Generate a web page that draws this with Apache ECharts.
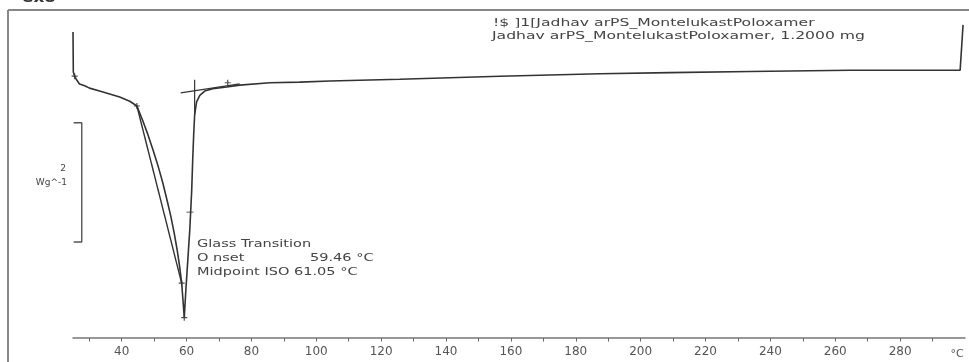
<!DOCTYPE html>
<html><head><meta charset="utf-8">
<script src="https://cdn.jsdelivr.net/npm/echarts@6/dist/echarts.min.js"></script>
<style>html,body{margin:0;padding:0;background:#fff}#c{width:969px;height:362px}</style>
</head><body><div id="c"></div>
<script>
// DSC curve: temperature (°C) vs heat flow (W/g, exo up)
const curve = [
 [25.0,0.13],[25.1,-0.54],[25.5,-0.61],[26.1,-0.67],[27.0,-0.74],[28.6,-0.77],[30.1,-0.81],
 [33.2,-0.86],[36.3,-0.91],[39.4,-0.96],[42.5,-1.03],[44.7,-1.11],[46.4,-1.34],[47.9,-1.56],
 [49.7,-1.85],[51.3,-2.13],[52.7,-2.40],[54.0,-2.69],[55.2,-2.97],[56.2,-3.24],[57.1,-3.52],
 [57.9,-3.81],[58.5,-4.08],[58.9,-4.36],[59.3,-4.66],
 [59.8,-4.19],[60.4,-3.69],[61.0,-3.19],[61.6,-2.52],[61.9,-2.02],[62.2,-1.60],[62.5,-1.26],
 [63.1,-1.04],[64.1,-0.93],[65.6,-0.86],[68.1,-0.82],[72.4,-0.79],[76.4,-0.76],[85.7,-0.72],
 [94.9,-0.71],[104.2,-0.69],[125.7,-0.66],[156.6,-0.61],[187.4,-0.57],[209.0,-0.55],
 [233.7,-0.53],[264.6,-0.51],[298.5,-0.51],[299.1,-0.49],[299.4,0.25]
];
const tangentLow = [[44.7,-1.11],[58.5,-4.08]];
const tangentHigh = [[58.2,-0.89],[76.4,-0.74]];
const onsetLine = [[62.5,-0.67],[62.5,-1.26]];
const markers = [[25.5,-0.61],[44.7,-1.11],[58.5,-4.08],[59.3,-4.66],[72.7,-0.72]];
const midMarker = [[61.05,-2.89]];
const scaleBar = [[25.2,-1.39],[27.7,-1.39],[27.7,-3.39],[25.2,-3.39]];
const tickValues = [30,40,50,60,70,80,90,100,110,120,130,140,150,160,170,180,190,200,210,220,230,240,250,260,270,280,290];
const labelValues = [40,60,80,100,120,140,160,180,200,220,240,260,280];
const infoLines = ['!$ ]1[Jadhav arPS_MontelukastPoloxamer','Jadhav arPS_MontelukastPoloxamer, 1.2000 mg'];
const gtLines = ['Glass Transition','O nset','Midpoint ISO 61.05 \u00b0C'];
const onsetValue = '59.46 \u00b0C';

const chart = echarts.init(document.getElementById('c'));
const lc = '#333';
const txt = (x,y,t,o,sx) => ({type:'text',x:x,y:y,scaleX:sx||1,style:Object.assign({text:t,fill:'#444',font:'10px "DejaVu Sans"',textVerticalAlign:'middle'},o||{})});
chart.setOption({
  animation:false,
  grid:{left:73,right:4,top:10,bottom:24},
  xAxis:{
    type:'value',min:25,max:300,
    axisLine:{onZero:false,lineStyle:{color:'#777',width:1.5}},
    axisTick:{customValues:tickValues,length:3.5,lineStyle:{color:'#666'}},
    axisLabel:{customValues:labelValues,color:'#555',fontSize:12,fontFamily:'DejaVu Sans',margin:8},
    splitLine:{show:false}
  },
  yAxis:{type:'value',min:-5,max:0.5,show:false},
  series:[
    {type:'line',data:curve,showSymbol:false,lineStyle:{color:lc,width:1.6},z:3},
    {type:'line',data:tangentLow,showSymbol:false,lineStyle:{color:lc,width:1.4}},
    {type:'line',data:tangentHigh,showSymbol:false,lineStyle:{color:lc,width:1.2}},
    {type:'line',data:onsetLine,showSymbol:false,lineStyle:{color:lc,width:1.2}},
    {type:'line',data:scaleBar,showSymbol:false,lineStyle:{color:'#555',width:1.4}},
    {type:'scatter',data:markers,symbol:'path://M4,0h2v4h4v2h-4v4h-2v-4h-4v-2h4z',symbolSize:6,itemStyle:{color:'#222'}},
    {type:'scatter',data:midMarker,symbol:'rect',symbolSize:[7,1.2],itemStyle:{color:'#555'}}
  ],
  graphic:[
    {type:'line',shape:{x1:8,y1:10,x2:969,y2:10},style:{stroke:'#888',lineWidth:2}},
    {type:'line',shape:{x1:8,y1:10,x2:8,y2:362},style:{stroke:'#888',lineWidth:2}},
    txt(22,-2,'exo',{font:'bold 14px "DejaVu Sans"',fill:'#333'},1.2),
    txt(66,169,'2',{textAlign:'right',font:'9px "DejaVu Sans"'}),
    txt(67,183,'Wg^-1',{textAlign:'right',font:'9px "DejaVu Sans"'}),
    txt(493,23,infoLines[0],{font:'11px "DejaVu Sans"'},1.42),
    txt(492,36,infoLines[1],{font:'11px "DejaVu Sans"'},1.42),
    txt(197,244,gtLines[0],{font:'11px "DejaVu Sans"'},1.32),
    txt(197,258,gtLines[1],{font:'11px "DejaVu Sans"'},1.32),
    txt(310,258,onsetValue,{font:'11px "DejaVu Sans"'},1.32),
    txt(197,272,gtLines[2],{font:'11px "DejaVu Sans"'},1.32),
    txt(957,354,'\u00b0C',{textAlign:'center',font:'11px "DejaVu Sans"',fill:'#555'})
  ]
});
</script></body></html>
